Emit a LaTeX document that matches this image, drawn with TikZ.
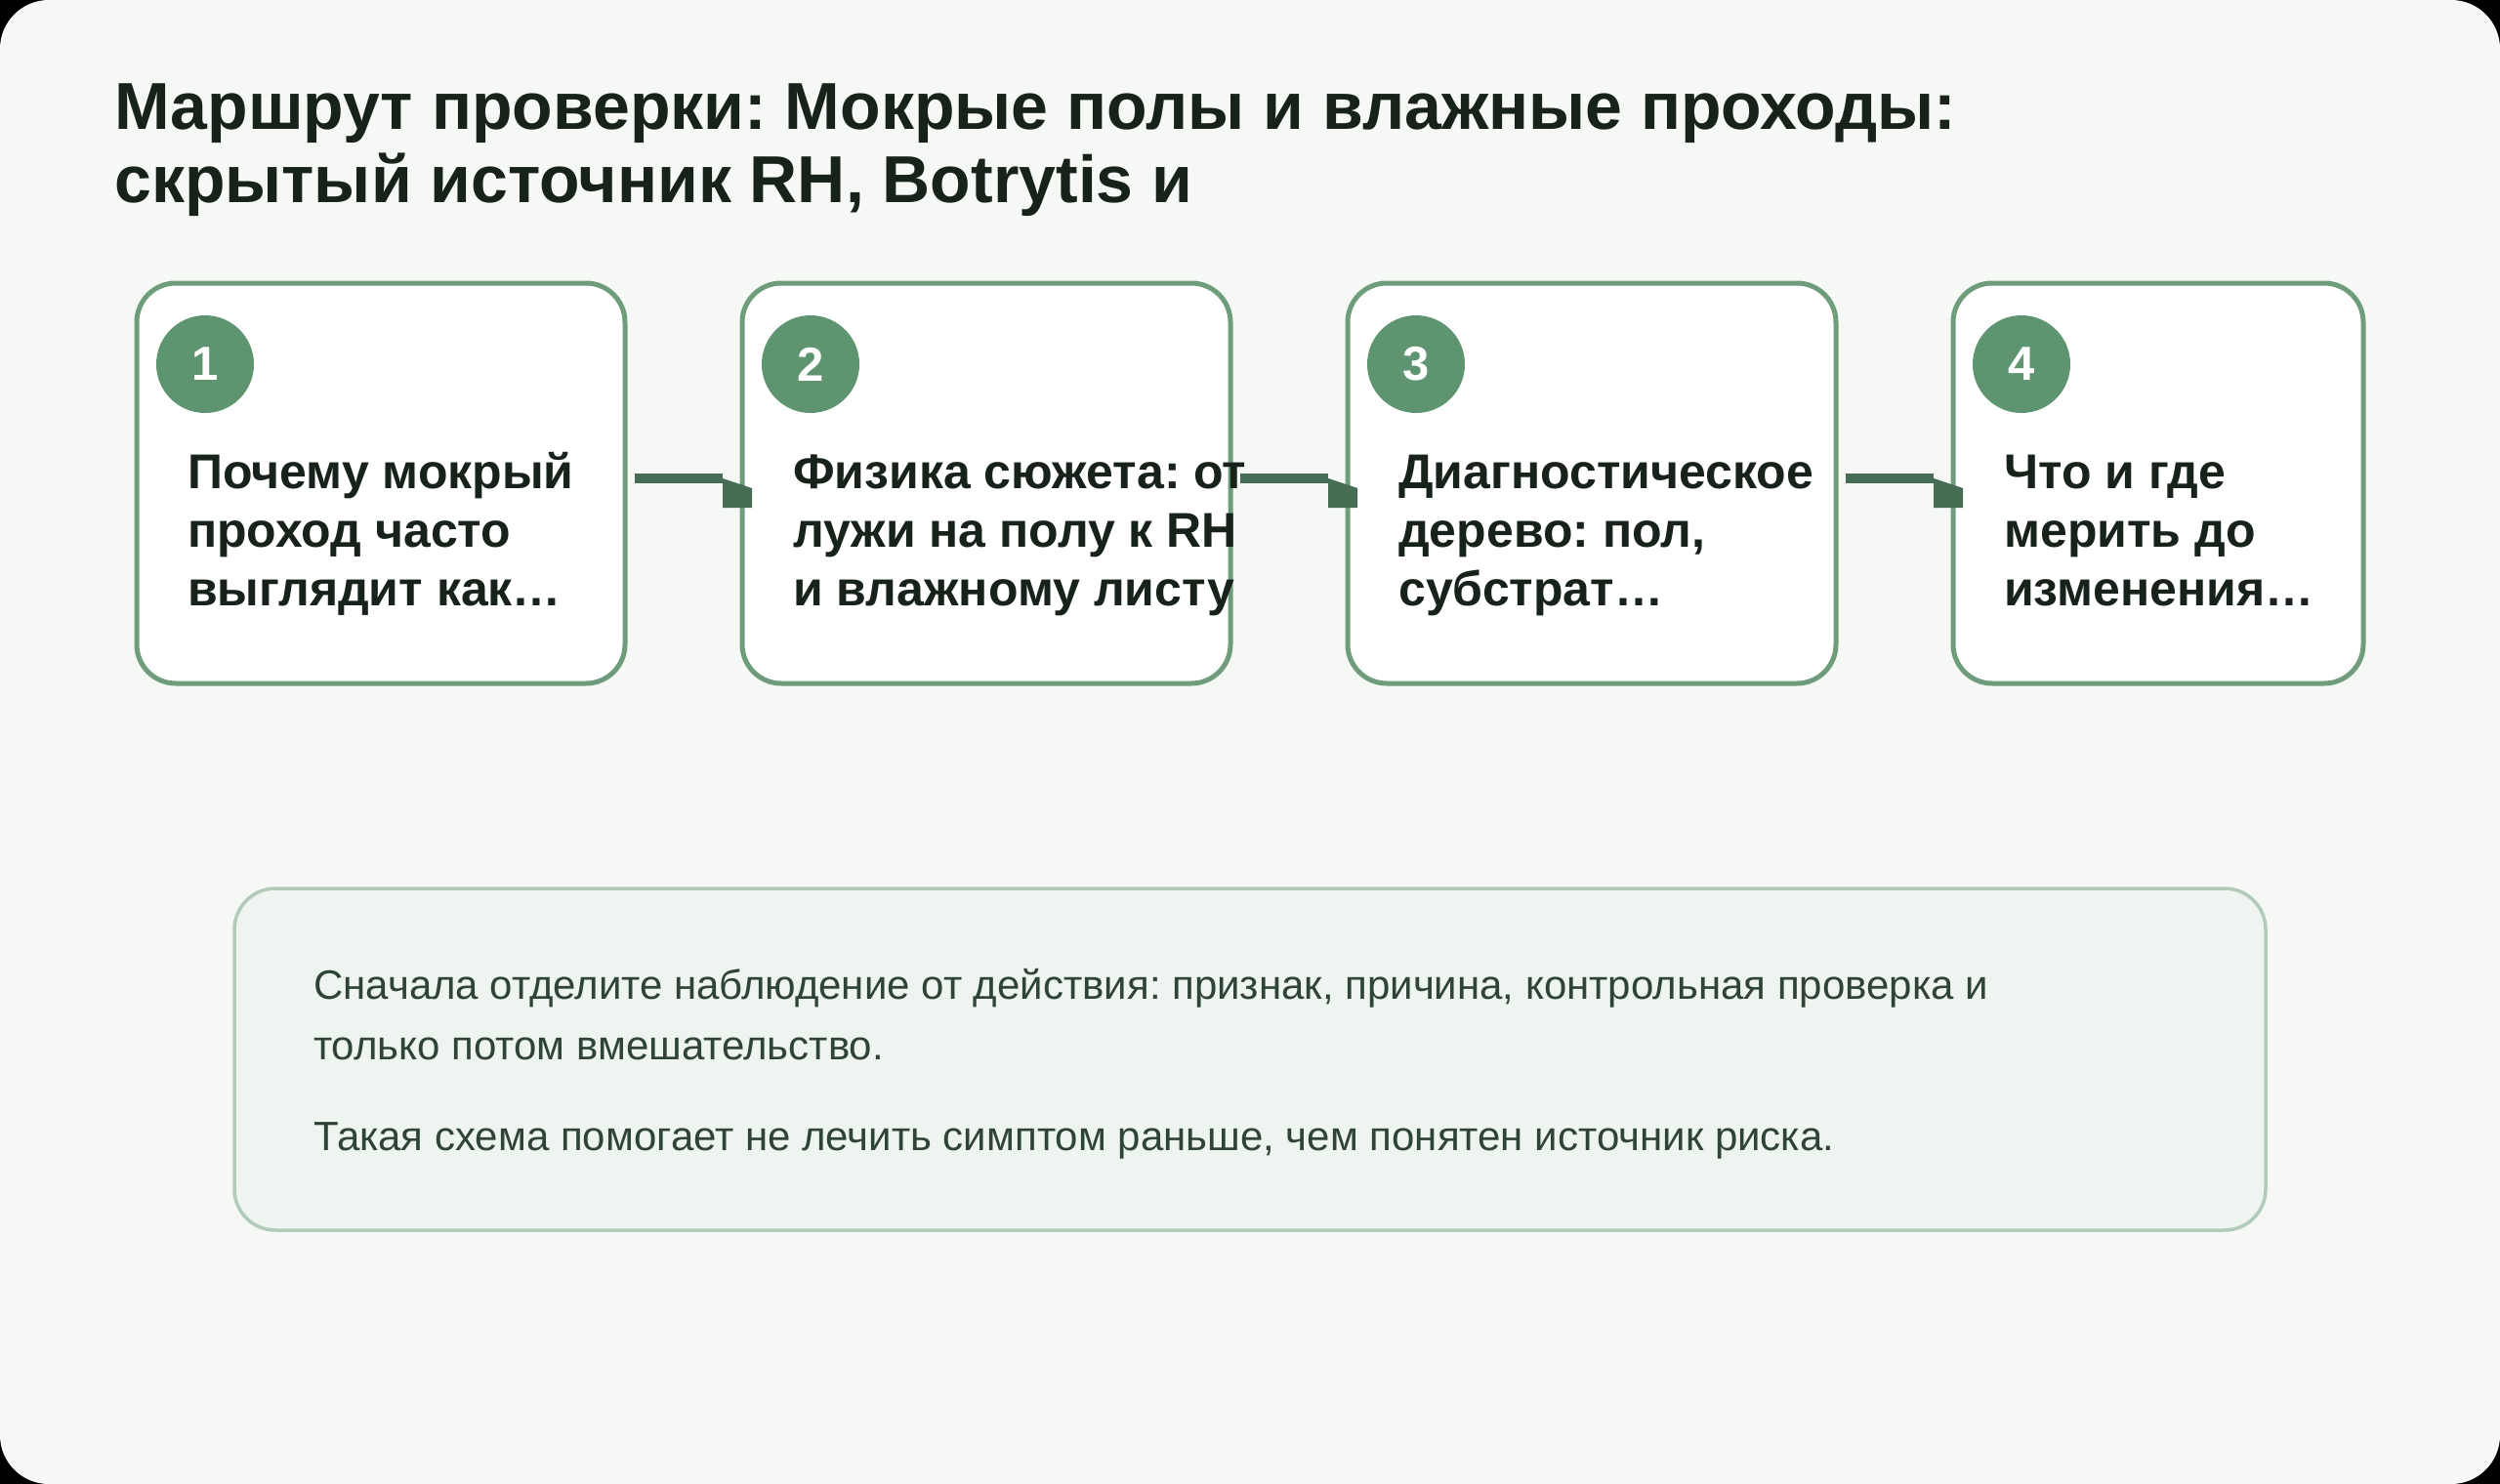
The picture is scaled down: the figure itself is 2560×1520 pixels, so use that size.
\documentclass[tikz,border=0pt]{standalone}
\usepackage{fontspec}
\setmainfont{Liberation Sans}
\usepackage{xcolor}
\usepackage{tikz}
\usetikzlibrary{positioning}
\frenchspacing
\definecolor{pagebg}{HTML}{F6F8F6}
\definecolor{ink}{HTML}{17221B}
\definecolor{cardedge}{HTML}{6F9C7B}
\definecolor{badgefill}{HTML}{5E9470}
\definecolor{linkc}{HTML}{466D54}
\definecolor{notefill}{HTML}{EEF4EF}
\definecolor{noteedge}{HTML}{B1CBB8}
\definecolor{noteink}{HTML}{2F4437}
\tikzset{
  card/.style={draw=cardedge,line width=5pt,fill=white,rounded corners=40pt,minimum height=410pt,minimum width=500pt,inner sep=0pt,outer sep=0pt},
  badge/.style={circle,fill=badgefill,minimum size=100pt,inner sep=0pt,text=white,font=\fontsize{49}{49}\selectfont\bfseries},
  cardtxt/.style={anchor=base west,align=left,inner sep=0pt,text=ink,font=\fontsize{50}{60}\selectfont\bfseries},
  ttl/.style={anchor=base west,align=left,inner sep=0pt,text=ink,font=\fontsize{68}{75}\selectfont\bfseries},
  link/.style={draw=linkc,line width=10pt},
  note/.style={draw=noteedge,line width=3.5pt,fill=notefill,rounded corners=42pt,minimum width=2080pt,minimum height=350pt,inner sep=0pt,outer sep=0pt},
  notetxt/.style={anchor=base west,align=left,inner sep=0pt,text=noteink,font=\fontsize{42}{62}\selectfont}
}
\newcommand{\linkhead}[1]{\fill[linkc] (#1) -- ++(30,10) -- ++(0,20) -- ++(-30,0) -- cycle;}

\begin{document}
\begin{tikzpicture}[x=1pt,y=-1pt]
\useasboundingbox (0,0) rectangle (2560,1520);
\fill[black] (0,0) rectangle (2560,1520);
\fill[pagebg,rounded corners=50pt] (0,0) rectangle (2560,1520);

% last line sits on the given base
\node[ttl] (head) at (117,207) {Маршрут проверки: Мокрые полы и влажные проходы:\\скрытый источник RH, Botrytis и};

% steps
\node[card] (b1) at (390,495) {};
\node[card,right=120pt of b1] (b2) {};
\node[card,right=120pt of b2] (b3) {};
\node[card,right=120pt of b3,minimum width=420pt] (b4) {};

\foreach \i in {1,...,4}{
  \node[badge] (n\i) at ([shift={(70,83)}]b\i.north west) {\i};
}
\node[cardtxt] (t1) at ([shift={(52,330)}]b1.north west) {Почему мокрый\\проход часто\\выглядит как…};
\node[cardtxt] (t2) at ([shift={(52,330)}]b2.north west) {Физика сюжета: от\\лужи на полу к RH\\и влажному листу};
\node[cardtxt] (t3) at ([shift={(52,330)}]b3.north west) {Диагностическое\\дерево: пол,\\субстрат…};
\node[cardtxt] (t4) at ([shift={(52,330)}]b4.north west) {Что и где\\мерить до\\изменения…};

\foreach \a/\b in {1/2,2/3,3/4}{
  \draw[link] ([xshift=10pt,yshift=5pt]b\a.east) -- ([xshift=-20pt,yshift=5pt]b\b.west) coordinate (h\a);
  \linkhead{h\a}
}

% note
\node[note] (nt) at (1280,1085) {};
\node[notetxt] (nt1) at ([shift={(81,268)}]nt.north west) {Сначала отделите наблюдение от действия: признак, причина, контрольная проверка и\\только потом вмешательство.\\[31pt]Такая схема помогает не лечить симптом раньше, чем понятен источник риска.};
\end{tikzpicture}
\end{document}
